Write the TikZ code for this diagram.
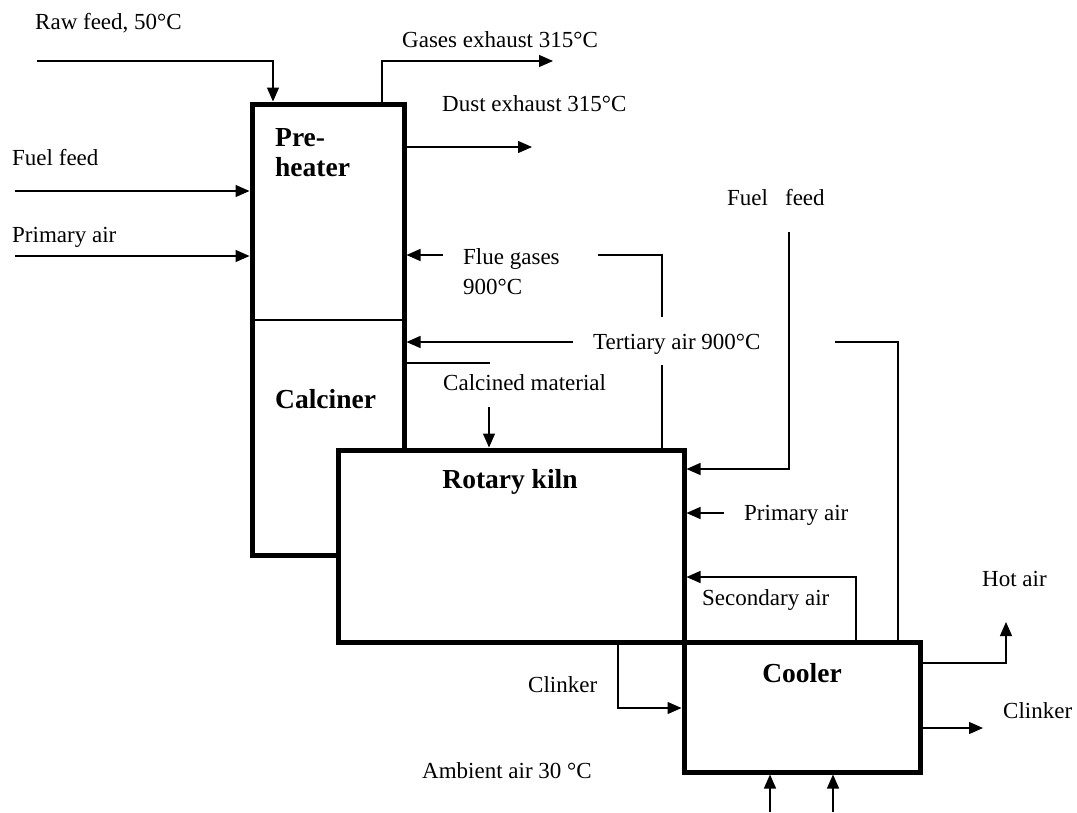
\documentclass[tikz,border=0pt]{standalone}
\usepackage{fontspec}
\setmainfont{Liberation Serif}
\usetikzlibrary{arrows.meta}
\begin{document}
\begin{tikzpicture}[x=1pt,y=-1pt,
 box/.style={draw,line width=5pt,fill=white,inner sep=0pt},
 ln/.style={line width=1.3pt},
 arr/.style={line width=1.3pt,-{Triangle[length=14pt,width=12pt]}},
 lbl/.style={font=\fontsize{23}{26}\selectfont,inner sep=0pt,anchor=west,text height=16pt,text depth=1pt},
 ttl/.style={font=\bfseries\fontsize{27.5}{30}\selectfont,inner sep=0pt,text height=19pt,text depth=1pt}]
\useasboundingbox (0,0) rectangle (1077,812);
% boxes
\node[box,minimum width=152pt,minimum height=451pt] (pc) at (328,329.5) {};
\node[box,minimum width=346pt,minimum height=192pt] (kiln) at (511,546) {};
\node[box,minimum width=236pt,minimum height=130pt] (cool) at (802,707) {};
% coordinates
\coordinate (dv) at (0,320);
\coordinate (rfS) at (37,61);  \coordinate (rfX) at (273,0);
\coordinate (geX) at (382,0);  \coordinate (geT) at (553,61);
\coordinate (deT) at (532,147);
\coordinate (ffS) at (15,191);
\coordinate (paS) at (15,256);
\coordinate (fgX) at (662,0);  \coordinate (fgG1) at (662,365); \coordinate (fgG2) at (662,317);
\coordinate (fgC) at (662,255); \coordinate (fgE) at (598,255); \coordinate (fgS) at (443,255);
\coordinate (taX) at (898,0);  \coordinate (taC) at (898,342); \coordinate (taE) at (835,342);
\coordinate (taS) at (573,342);
\coordinate (cmL) at (490,363);
\coordinate (cmS) at (489,407);
\coordinate (kfS) at (789,232); \coordinate (kfC) at (789,469);
\coordinate (kpS) at (724,513);
\coordinate (saX) at (856,0);  \coordinate (saC) at (856,577);
\coordinate (haC) at (1006,663); \coordinate (haT) at (1006,622);
\coordinate (coT) at (983,728);
\coordinate (ciX) at (618,0);  \coordinate (ciC) at (618,708);
\coordinate (aa1) at (770,812); \coordinate (aa2) at (833,812);
% divider
\draw[ln] (pc.west |- dv) -- (pc.east |- dv);
% connectors
\draw[arr] (rfS) -| (rfX |- pc.north);
\draw[arr] (geX |- pc.north) |- (geT);
\draw[arr] (pc.east |- deT) -- (deT);
\draw[arr] (ffS) -- (ffS -| pc.west);
\draw[arr] (paS) -- (paS -| pc.west);
\draw[ln] (fgX |- kiln.north) -- (fgG1);
\draw[ln] (fgG2) -- (fgC) -- (fgE);
\draw[arr] (fgS) -- (fgS -| pc.east);
\draw[ln] (taX |- cool.north) -- (taC) -- (taE);
\draw[arr] (taS) -- (taS -| pc.east);
\draw[ln] (cmL -| pc.east) -- (cmL);
\draw[arr] (cmS) -- (cmS |- kiln.north);
\draw[arr] (kfS) -- (kfC) -- (kfC -| kiln.east);
\draw[arr] (kpS) -- (kpS -| kiln.east);
\draw[arr] (saX |- cool.north) -- (saC) -- (saC -| kiln.east);
\draw[arr] (cool.east |- haC) -- (haC) -- (haT);
\draw[arr] (cool.east |- coT) -- (coT);
\draw[arr] (ciX |- kiln.south) -- (ciC) -- (ciC -| cool.west);
\draw[arr] (aa1) -- (aa1 |- cool.south);
\draw[arr] (aa2) -- (aa2 |- cool.south);
% labels
\node[lbl] (rfL) at (35,22) {Raw feed, 50°C};
\node[lbl] (geL) at (402,40) {Gases exhaust 315°C};
\node[lbl] (deL) at (442,104) {Dust exhaust 315°C};
\node[lbl] (ffL) at (12,158) {Fuel feed};
\node[lbl] (paL) at (12,235) {Primary air};
\node[ttl,anchor=west] (pre1) at (275,137) {Pre-};
\node[ttl,anchor=west] (pre2) at (275,167) {heater};
\node[lbl] (fg1) at (463,257) {Flue gases};
\node[lbl] (fg2) at (463,287) {900°C};
\node[lbl] (kfL) at (727,198) {Fuel\hspace{17pt}feed};
\node[lbl] (taL) at (593,342) {Tertiary air 900°C};
\node[lbl] (cmT) at (443,383) {Calcined material};
\node[ttl,anchor=west] (calc) at (275,399) {Calciner};
\node[ttl] (rk) at (510,479) {Rotary kiln};
\node[lbl] (kpL) at (744,513) {Primary air};
\node[lbl] (saL) at (702,598) {Secondary air};
\node[lbl] (haL) at (982,579) {Hot air};
\node[ttl] (coL) at (802,673) {Cooler};
\node[lbl] (clR) at (1003,711) {Clinker};
\node[lbl] (clL) at (528,685) {Clinker};
\node[lbl] (aaL) at (422,771) {Ambient air 30 °C};
\end{tikzpicture}
\end{document}
